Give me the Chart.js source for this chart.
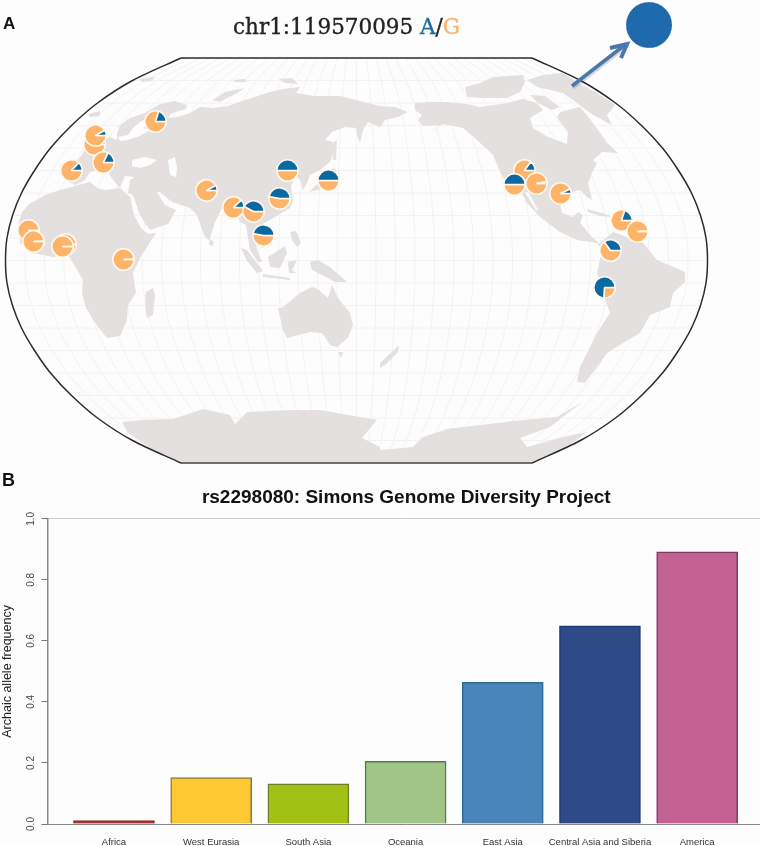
<!DOCTYPE html>
<html>
<head>
<meta charset="utf-8">
<title>chr1:119570095</title>
<script src="https://cdn.jsdelivr.net/npm/chart.js@4"></script>
<style>
  html, body { margin: 0; padding: 0; background: #fdfdfd; }
  #page { position: relative; width: 760px; height: 846px; overflow: hidden; background: #fdfdfd; }
  #page canvas { position: absolute; }
  .panel { position: absolute; font-family: "Liberation Sans", sans-serif; font-weight: bold; color: #111; }
  #mapTitle { position: absolute; left: 233px; top: 12px; font-family: "DejaVu Serif", serif; font-size: 21.5px; line-height: 30px; color: #222; white-space: nowrap; -webkit-text-stroke: 0.35px currentColor; }
</style>
</head>
<body>
<div id="page">
  <canvas id="mapCanvas" width="760" height="470" style="left:0;top:0"></canvas>
  <canvas id="barCanvas" width="765" height="376" style="left:0;top:470px"></canvas>
  <div class="panel" style="left:3px;top:14px;font-size:17px">A</div>
  <div class="panel" style="left:2px;top:470px;font-size:18px">B</div>
  <div id="mapTitle">chr1:119570095 <span style="color:#1f6ba0">A</span>/<span style="color:#fbb46a">G</span></div>
</div>
<script>
// panel B values
const regions = ['Africa', 'West Eurasia', 'South Asia', 'Oceania', 'East Asia', 'Central Asia and Siberia', 'America'];
const archaicFreq = [0.011, 0.152, 0.132, 0.205, 0.464, 0.649, 0.892];
const barFill = ['#b5302f', '#fdc832', '#a2c114', '#a0c586', '#4985ba', '#2e4a87', '#c36192'];
const barEdge = ['#7a3a2a', '#8b7b3b', '#6a7f2a', '#4f7a4f', '#2d6a9a', '#1d3a78', '#7d3a64'];
const freqTicks = [0, 0.2, 0.4, 0.6, 0.8, 1];

// panel A sampling sites, map units, back to front
const siteX = [155, 94, 95, 103, 71, 206, 233, 253, 287, 279, 328, 263, 28, 33, 65, 62, 123, 524, 536, 514, 560, 621, 637, 610, 604];
const siteY = [121, 144, 135, 162, 170, 190, 207, 211, 170, 198, 180, 235, 230, 241, 244, 246, 259, 170, 183, 184, 193, 220, 231, 250, 287];
const alleleA = [0.2, 0.1, 0.08, 0.18, 0.13, 0.08, 0.12, 0.42, 0.5, 0.47, 0.5, 0.47, 0.002, 0.006, 0.001, 0.001, 0.006, 0.15, 0.03, 0.5, 0.07, 0.2, 0.012, 0.35, 0.74];

// map grid: half width of the frame at each 10 degree parallel
const parallelOffset = [0, 22.5, 45, 67.5, 90, 112.5, 135, 157.5, 180, 202.5];
const parallelHalfWidth = [351, 349.5, 344, 335, 322, 306, 285, 259, 224, 175.5];

// land outlines
const eurasia = [[117,133],[120,125],[130,118],[145,113],[160,104],[175,101],[187,105],[186,109],[172,113],[168,118],[178,117],[190,113],[200,107],[213,108],[228,106],[245,100],[258,96],[270,92],[283,89],[300,87],[296,93],[315,96],[340,96],[360,101],[380,106],[395,107],[408,112],[398,117],[385,120],[380,127],[368,122],[363,130],[360,143],[357,135],[356,128],[345,127],[332,132],[325,140],[333,142],[335,150],[330,162],[320,170],[310,175],[307,183],[303,190],[300,180],[296,176],[291,186],[293,200],[290,208],[280,214],[270,220],[262,224],[267,232],[270,240],[262,248],[258,240],[254,238],[258,252],[262,262],[258,262],[250,250],[248,238],[246,225],[240,222],[235,212],[222,208],[215,222],[209,241],[204,235],[197,215],[190,208],[172,202],[160,192],[157,192],[165,205],[176,210],[168,224],[150,230],[146,225],[140,215],[133,195],[128,193],[130,180],[135,177],[125,176],[120,188],[113,180],[108,172],[100,170],[90,172],[85,180],[75,185],[63,178],[60,165],[78,160],[85,150],[100,143],[110,137],[117,140]];
const africa = [[30,203],[35,201],[45,195],[60,190],[75,186],[90,182],[97,188],[105,190],[120,188],[130,197],[134,215],[141,228],[148,234],[156,233],[140,258],[133,273],[136,293],[128,305],[127,320],[120,336],[107,338],[98,327],[86,308],[82,293],[83,280],[73,263],[68,255],[53,257],[33,253],[20,243],[18,225],[22,212]];
const madagascar = [[146,292],[153,288],[155,295],[153,315],[147,318],[145,305]];
const northAmerica = [[415,103],[430,102],[447,102],[467,104],[480,107],[507,103],[523,99],[537,103],[543,110],[530,118],[533,128],[548,137],[567,144],[568,132],[557,117],[560,112],[580,107],[593,123],[607,143],[618,153],[602,152],[593,160],[597,163],[592,173],[588,183],[592,200],[587,197],[580,190],[570,193],[560,203],[562,213],[573,217],[578,212],[583,215],[580,223],[593,238],[602,246],[599,246],[597,243],[577,240],[560,232],[540,217],[527,203],[520,190],[507,185],[498,167],[493,155],[477,140],[463,128],[443,124],[430,132],[440,125],[423,126],[418,120],[422,115],[415,110]];
const southAmerica = [[600,243],[613,232],[643,243],[657,260],[685,272],[685,282],[673,293],[670,307],[650,315],[640,333],[623,343],[607,353],[597,367],[585,383],[577,382],[580,367],[597,333],[610,313],[603,293],[597,273],[602,250]];
const greenland = [[527,80],[543,75],[563,73],[577,82],[597,93],[615,105],[607,115],[612,125],[593,115],[577,103],[563,93],[537,87]];
const arcticCanada = [[465,87],[480,83],[493,77],[523,75],[525,82],[520,92],[507,98],[480,98],[467,97]];
const baffin = [[530,95],[545,96],[560,107],[552,110],[538,103]];
const cuba = [[587,209],[602,213],[613,217],[600,216],[588,212]];
const australia = [[278,308],[283,307],[300,293],[312,287],[318,289],[322,293],[328,298],[332,285],[338,298],[350,313],[353,325],[348,338],[337,347],[330,345],[322,333],[310,332],[287,338],[283,330]];
const tasmania = [[338,352],[343,352],[341,358]];
const newGuinea = [[310,262],[318,260],[330,267],[347,282],[335,282],[322,275],[312,270]];
const borneo = [[268,257],[285,246],[287,253],[280,268],[270,267]];
const sumatra = [[241,248],[247,250],[263,271],[257,273],[247,261]];
const java = [[263,274],[290,278],[290,280],[263,277]];
const sulawesi = [[288,262],[297,260],[292,270],[296,273],[289,273]];
const philippines = [[290,232],[296,231],[301,243],[297,247],[292,240]];
const japan = [[309,192],[316,185],[322,180],[333,168],[336,170],[330,182],[318,190]];
const sakhalin = [[334,142],[337,140],[336,160],[333,160]];
const sriLanka = [[210,239],[214,242],[212,247],[209,244]];
const britain = [[90,140],[98,128],[103,135],[100,150],[88,152]];
const iceland = [[88,114],[100,111],[100,116],[90,117]];
const svalbard = [[140,79],[155,77],[152,81],[142,82]];
const novayaZemlya = [[213,100],[225,92],[245,88],[235,94],[220,102]];
const franzJosef = [[233,80],[245,79],[247,82],[235,82]];
const severnaya = [[278,79],[292,78],[298,84],[285,83]];
const newZealand = [[380,363],[397,347],[399,345],[398,352],[385,365],[380,368]];
const antarctica = [[128,433],[122,422],[143,420],[173,419],[203,409],[230,415],[235,424],[247,412],[290,410],[320,410],[377,420],[367,432],[362,438],[380,447],[380,450],[413,447],[423,437],[447,429],[497,423],[513,421],[557,417],[582,402],[550,427],[520,438],[527,447],[563,437],[587,432],[575,441],[561,450],[532,463],[181,463],[150,448]];
const landShapes = [eurasia, africa, madagascar, northAmerica, southAmerica, greenland, arcticCanada, baffin, cuba, australia, tasmania, newGuinea, borneo, sumatra, java, sulawesi, philippines, japan, sakhalin, sriLanka, britain, iceland, svalbard, novayaZemlya, franzJosef, severnaya, newZealand, antarctica];

// inland water painted over the land
const baltic = [[118,137],[128,135],[133,128],[140,122],[150,117],[152,122],[143,128],[150,130],[140,136],[128,140],[120,141]];
const blackSea = [[132,160],[145,157],[157,160],[150,165],[140,168],[132,166]];
const caspian = [[168,160],[175,157],[177,168],[176,177],[170,175]];
const gulfCalifornia = [[525,192],[529,193],[538,210],[536,210]];
const waterShapes = [baltic, blackSea, caspian, gulfCalifornia];

const arrowShaft = [[572,86],[626,44]];
const arrowHead = [[610,48],[627,44],[621,58]];
const arrowShadow = [[573,88],[627,46]];

const colBlue = '#0b69a1';
const colOrange = '#fdb468';
const colLand = '#e4e0df';
const colPage = '#fdfdfd';
const colGrid = '#f3f2f2';
const centerX = 356.5;
const centerY = 260.5;

function toPoints(aShape) {
  return aShape.map((p) => ({ x: p[0], y: p[1] }));
}

function lineSet(aPoints, sColor, nWidth, nOrder, nTension) {
  return {
    data: aPoints,
    showLine: true,
    pointRadius: 0,
    borderColor: sColor,
    borderWidth: nWidth,
    tension: nTension || 0,
    fill: false,
    order: nOrder,
  };
}

function fillSet(aShape, sColor, nOrder) {
  let _aPoints = toPoints(aShape.concat([aShape[0]]));
  return {
    data: _aPoints,
    showLine: true,
    pointRadius: 0,
    borderWidth: 0,
    backgroundColor: sColor,
    fill: 'shape',
    order: nOrder,
  };
}

// rows of the grid from top to bottom
function gridRows() {
  let _aRows = [];
  for (let k = 9; k >= -9; k--) {
    let _i = Math.abs(k);
    _aRows.push({ y: centerY - Math.sign(k) * parallelOffset[_i], half: parallelHalfWidth[_i] });
  }
  return _aRows;
}

function buildMapDatasets() {
  let _aSets = [];
  let _aRows = gridRows();
  _aRows.forEach((oRow) => {
    _aSets.push(lineSet([{ x: centerX - oRow.half, y: oRow.y }, { x: centerX + oRow.half, y: oRow.y }], colGrid, 1, 6));
  });
  for (let m = -17; m <= 17; m++) {
    let _aLine = _aRows.map((oRow) => ({ x: centerX + oRow.half * m / 18, y: oRow.y }));
    _aSets.push(lineSet(_aLine, colGrid, 1, 6, 0.3));
  }
  landShapes.forEach((aShape) => _aSets.push(fillSet(aShape, colLand, 5)));
  waterShapes.forEach((aShape) => _aSets.push(fillSet(aShape, colPage, 4)));
  let _aLeft = _aRows.map((oRow) => ({ x: centerX - oRow.half, y: oRow.y }));
  let _aRight = _aRows.map((oRow) => ({ x: centerX + oRow.half, y: oRow.y }));
  _aSets.push(lineSet(_aLeft, '#2b2b2b', 1.5, 3, 0.3));
  _aSets.push(lineSet(_aRight, '#2b2b2b', 1.5, 3, 0.3));
  _aSets.push(lineSet([_aLeft[0], _aRight[0]], '#2b2b2b', 1.5, 3));
  _aSets.push(lineSet([_aLeft[18], _aRight[18]], '#444444', 1.5, 3));
  _aSets.push(lineSet(toPoints(arrowShadow), 'rgba(60,60,60,0.18)', 3.5, 2));
  _aSets.push(lineSet(toPoints(arrowShaft), '#4a78aa', 3.5, 1));
  _aSets.push(lineSet(toPoints(arrowHead), '#4a78aa', 4, 1));
  return _aSets;
}

const mapChart = new Chart(document.getElementById('mapCanvas'), {
  type: 'scatter',
  data: { datasets: buildMapDatasets() },
  options: {
    responsive: false,
    animation: false,
    events: [],
    devicePixelRatio: 1,
    layout: { padding: 0 },
    plugins: { legend: { display: false }, tooltip: { enabled: false }, title: { display: false } },
    scales: {
      x: { type: 'linear', display: false, min: 0, max: 760 },
      y: { type: 'linear', display: false, min: 0, max: 470, reverse: true },
    },
  },
});

function addPie(nX, nY, nRadius, aValues, aColors, nBorder, sBorder) {
  let _nSize = Math.ceil(nRadius * 2) + 2;
  let _oCanvas = document.createElement('canvas');
  _oCanvas.width = _nSize;
  _oCanvas.height = _nSize;
  _oCanvas.style.left = (mapChart.scales.x.getPixelForValue(nX) - _nSize / 2) + 'px';
  _oCanvas.style.top = (mapChart.scales.y.getPixelForValue(nY) - _nSize / 2) + 'px';
  document.getElementById('page').appendChild(_oCanvas);
  return new Chart(_oCanvas, {
    type: 'pie',
    data: {
      datasets: [{
        data: aValues,
        backgroundColor: aColors,
        borderColor: sBorder,
        borderWidth: nBorder,
      }],
    },
    options: {
      responsive: false,
      animation: false,
      events: [],
      devicePixelRatio: 1,
      rotation: 90,
      layout: { padding: 0 },
      plugins: { legend: { display: false }, tooltip: { enabled: false } },
    },
  });
}

// slices run clockwise from three o'clock, G first so A ends back at three o'clock
siteX.forEach((nX, i) => {
  addPie(nX, siteY[i], 10.5, [1 - alleleA[i], alleleA[i]], [colOrange, colBlue], 1.6, '#fff8ef');
});
// the pie the arrow points at, its G sliver shows as a dark hairline
addPie(649, 25, 22, [0.006, 0.994], ['#0f2a45', '#1f69ad'], 0.4, '#1f5f9c');

new Chart(document.getElementById('barCanvas'), {
  type: 'bar',
  data: {
    datasets: [{
      data: regions.map((sName, i) => ({ x: i, y: archaicFreq[i] })),
      backgroundColor: barFill,
      borderColor: barEdge,
      borderWidth: 1.5,
      barThickness: 81,
    }],
  },
  options: {
    responsive: false,
    animation: false,
    events: [],
    devicePixelRatio: 1,
    layout: { padding: 0 },
    plugins: {
      legend: { display: false },
      tooltip: { enabled: false },
      title: {
        display: true,
        fullSize: false,
        text: 'rs2298080: Simons Genome Diversity Project',
        color: '#111111',
        font: { family: '"Liberation Sans", sans-serif', size: 19, weight: 'bold' },
        padding: { top: 16, bottom: 10 },
      },
    },
    scales: {
      x: {
        type: 'linear',
        offset: false,
        min: -0.684,
        max: 6.698,
        grid: { display: false, offset: false },
        border: { color: '#888888', width: 1 },
        ticks: {
          stepSize: 1,
          autoSkip: false,
          includeBounds: false,
          maxRotation: 0,
          padding: 5,
          color: '#333333',
          font: { family: '"Liberation Sans", sans-serif', size: 9.5 },
          callback: (v) => regions[v] || '',
        },
        afterFit: (oScale) => { oScale.height = 22; },
      },
      y: {
        min: 0,
        max: 1,
        afterBuildTicks: (oScale) => { oScale.ticks = freqTicks.map((v) => ({ value: v })); },
        grid: {
          color: (ctx) => (ctx.tick && ctx.tick.value === 1 ? '#cccccc' : 'rgba(0,0,0,0)'),
          tickColor: '#777777',
          tickLength: 6,
        },
        border: { color: '#888888', width: 1.5 },
        title: {
          display: true,
          text: 'Archaic allele frequency',
          color: '#222222',
          padding: { top: 0, bottom: 0 },
          font: { family: '"Liberation Sans", sans-serif', size: 12.5 },
        },
        ticks: {
          minRotation: 90,
          maxRotation: 90,
          crossAlign: 'center',
          padding: 3,
          color: '#444444',
          font: { family: '"Liberation Sans", sans-serif', size: 10 },
          callback: (v) => v.toFixed(1),
        },
        afterFit: (oScale) => { oScale.width = 47.5; },
      },
    },
  },
});
</script>
</body>
</html>
